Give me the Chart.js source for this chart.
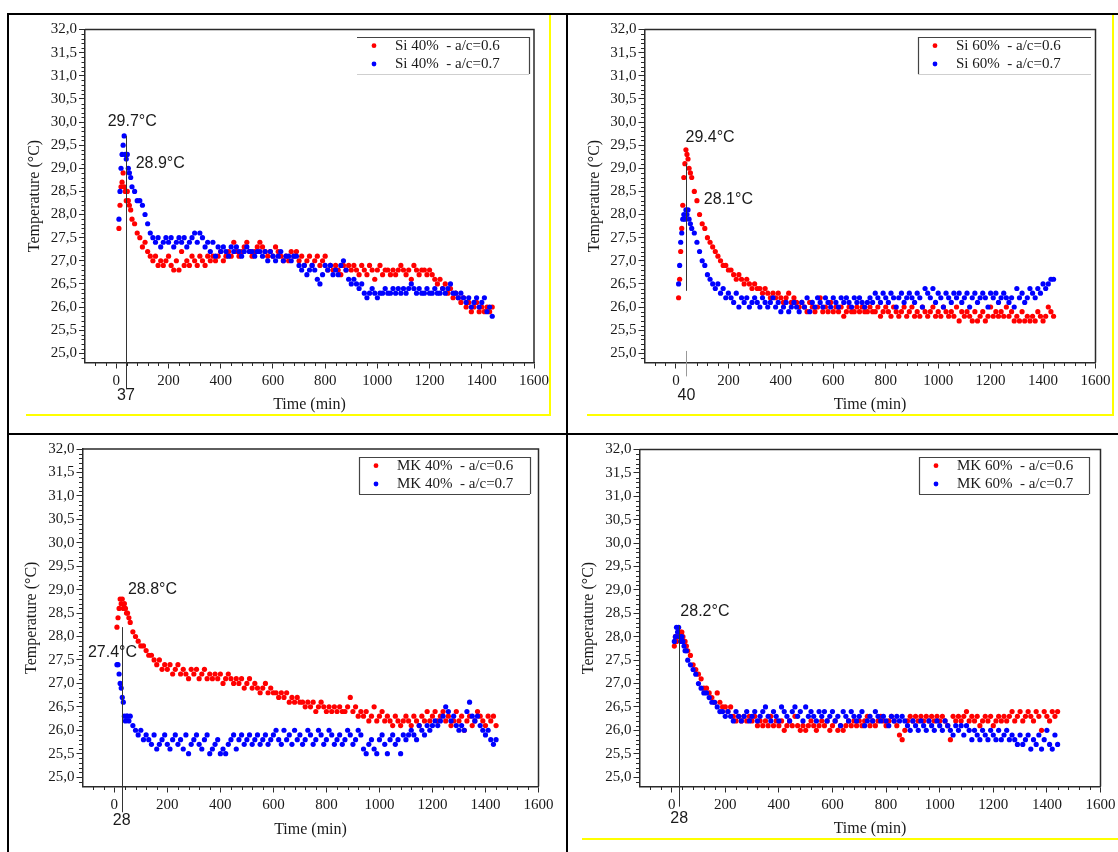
<!DOCTYPE html>
<html>
<head>
<meta charset="utf-8">
<script src="https://cdn.jsdelivr.net/npm/chart.js@4.4.1/dist/chart.umd.min.js"></script>
<style>
  html, body { margin: 0; padding: 0; background: #fff; overflow: hidden; }
  body { width: 1118px; height: 852px; position: relative; }
  canvas { position: absolute; }
  .rule { position: absolute; background: #000; z-index: 5; }
  .mark { position: absolute; background: #ffff00; z-index: 5; }
</style>
</head>
<body>
<script>
const SERIF = '"Liberation Serif", "Times New Roman", serif';
const SANS = '"Liberation Sans", Arial, sans-serif';
const AXIS_COLOR = '#2a2a2a';
const TEXT_COLOR = '#1a1a1a';
const RED = '#ff0000';
const BLUE = '#0000ff';

// sampling times (min), shared by every series
const timeMin = [
  10, 14, 18, 22, 26, 30, 34, 38, 42, 46, 50, 55, 60,
  70, 80, 90, 100, 110, 120, 130, 140, 150, 160,
  170, 180, 190, 200, 210, 220, 230, 240, 250, 260,
  270, 280, 290, 300, 310, 320, 330, 340, 350, 360,
  370, 380, 390, 400, 410, 420, 430, 440, 450, 460,
  470, 480, 490, 500, 510, 520, 530, 540, 550, 560,
  570, 580, 590, 600, 610, 620, 630, 640, 650, 660,
  670, 680, 690, 700, 710, 720, 730, 740, 750, 760,
  770, 780, 790, 800, 810, 820, 830, 840, 850, 860,
  870, 880, 890, 900, 910, 920, 930, 940, 950, 960,
  970, 980, 990, 1000, 1010, 1020, 1030, 1040, 1050, 1060,
  1070, 1080, 1090, 1100, 1110, 1120, 1130, 1140, 1150, 1160,
  1170, 1180, 1190, 1200, 1210, 1220, 1230, 1240, 1250, 1260,
  1270, 1280, 1290, 1300, 1310, 1320, 1330, 1340, 1350, 1360,
  1370, 1380, 1390, 1400, 1410, 1420, 1430, 1440
];

const tempTicks = [25.0, 25.5, 26.0, 26.5, 27.0, 27.5, 28.0, 28.5, 29.0, 29.5, 30.0, 30.5, 31.0, 31.5, 32.0];
const timeTicks = [0, 200, 400, 600, 800, 1000, 1200, 1400, 1600];

// Si 40%
const si40Ac06 = [
  27.7, 28.2, 28.6, 28.7, 28.9, 28.6, 28.5, 28.3, 28.5, 28.3, 28.2, 28.1, 27.9,
  27.8, 27.6, 27.5, 27.3, 27.4, 27.2, 27.1, 27.0, 27.1, 26.9,
  27.0, 26.9, 27.0, 27.1, 26.9, 26.8, 27.0, 26.8, 27.2, 26.9,
  27.0, 26.9, 27.1, 27.0, 26.9, 27.1, 27.0, 26.9, 27.1, 27.0,
  27.1, 27.0, 27.1, 27.2, 27.0, 27.1, 27.2, 27.1, 27.4, 27.2,
  27.1, 27.2, 27.3, 27.4, 27.2, 27.1, 27.2, 27.3, 27.4, 27.3,
  27.2, 27.1, 27.2, 27.1, 27.3, 27.2, 27.1, 27.0, 27.1, 27.0,
  27.2, 27.1, 27.2, 27.0, 27.1, 26.9, 27.0, 27.1, 26.9, 27.0,
  27.1, 26.9, 27.0, 27.1, 26.8, 26.9, 26.8, 26.9, 26.8, 26.7,
  26.9, 26.8, 26.9, 26.8, 26.9, 26.8, 26.7, 26.9, 26.8, 26.7,
  26.9, 26.8, 26.6, 26.8, 26.9, 26.7, 26.8, 26.8, 26.7, 26.8,
  26.7, 26.8, 26.9, 26.8, 26.7, 26.8, 26.6, 26.9, 26.8, 26.7,
  26.8, 26.8, 26.7, 26.8, 26.7, 26.6, 26.5, 26.6, 26.4, 26.5,
  26.3, 26.4, 26.2, 26.3, 26.2, 26.1, 26.2, 26.0, 26.1, 25.9,
  26.0, 26.1, 25.9, 26.0, 25.9, 26.0, 25.9, 26.0
];
const si40Ac07 = [
  27.9, 28.5, 29.0, 29.3, 29.5, 29.7, 29.3, 29.2, 29.3, 29.0, 28.9, 28.8, 28.6,
  28.5, 28.3, 28.3, 28.2, 28.0, 27.8, 27.6, 27.5, 27.4, 27.5,
  27.3, 27.4, 27.5, 27.4, 27.5, 27.3, 27.4, 27.5, 27.4, 27.5,
  27.3, 27.4, 27.5, 27.6, 27.4, 27.6, 27.5, 27.3, 27.4, 27.2,
  27.4, 27.1, 27.3, 27.2, 27.3, 27.2, 27.1, 27.3, 27.2, 27.3,
  27.2, 27.1, 27.2, 27.3, 27.2, 27.2, 27.1, 27.2, 27.2, 27.1,
  27.2, 27.0, 27.2, 27.1, 27.0, 27.1, 27.2, 27.0, 27.1, 27.1,
  27.0, 27.1, 27.1, 26.9, 26.8, 26.9, 26.7, 26.8, 26.9, 26.8,
  26.6, 26.5, 26.7, 26.9, 26.8, 26.9, 26.7, 26.8, 26.7, 26.9,
  27.0, 26.8, 26.6, 26.5, 26.6, 26.5, 26.4, 26.5, 26.3, 26.2,
  26.3, 26.4, 26.3, 26.2, 26.3, 26.3, 26.4, 26.3, 26.3, 26.4,
  26.3, 26.4, 26.3, 26.4, 26.3, 26.4, 26.5, 26.4, 26.3, 26.4,
  26.3, 26.3, 26.4, 26.3, 26.3, 26.4, 26.3, 26.3, 26.4, 26.3,
  26.4, 26.5, 26.3, 26.3, 26.2, 26.3, 26.2, 26.1, 26.2, 26.0,
  26.1, 26.2, 26.0, 26.1, 26.2, 25.9, 26.0, 25.8
];

// Si 60%
const si60Ac06 = [
  26.2, 26.6, 27.2, 27.7, 28.2, 28.8, 29.1, 29.4, 29.3, 29.2, 29.0, 28.9, 28.8,
  28.5, 28.3, 28.0, 27.8, 27.7, 27.5, 27.4, 27.3, 27.2, 27.1,
  27.0, 26.9, 26.9, 26.8, 26.8, 26.7, 26.6, 26.7, 26.6, 26.5,
  26.6, 26.5, 26.4, 26.5, 26.4, 26.4, 26.3, 26.4, 26.3, 26.2,
  26.3, 26.2, 26.3, 26.2, 26.1, 26.2, 26.3, 26.1, 26.2, 26.1,
  26.0, 26.1, 26.0, 25.9, 26.1, 26.0, 25.9, 26.0, 26.2, 25.9,
  26.0, 25.9, 26.1, 25.9, 26.0, 25.9, 26.0, 25.8, 25.9, 26.0,
  25.9, 25.9, 26.0, 25.9, 26.0, 25.9, 25.9, 26.0, 25.9, 25.9,
  26.0, 25.8, 25.9, 26.0, 25.9, 25.8, 26.0, 25.9, 25.8, 25.9,
  26.0, 25.8, 25.9, 26.0, 25.8, 25.9, 25.8, 26.0, 25.9, 25.8,
  25.9, 26.0, 25.8, 25.9, 25.8, 26.0, 25.9, 25.8, 25.9, 25.8,
  26.0, 25.7, 25.9, 25.8, 25.9, 25.8, 25.7, 25.9, 25.7, 25.8,
  25.9, 25.7, 25.8, 26.0, 25.8, 25.9, 25.8, 25.9, 25.8, 26.0,
  25.8, 25.9, 25.7, 25.8, 25.7, 25.9, 25.7, 25.8, 25.7, 25.8,
  25.7, 25.9, 25.8, 25.7, 25.8, 26.0, 25.9, 25.8
];
const si60Ac07 = [
  26.5, 26.9, 27.4, 27.6, 27.9, 28.0, 27.9, 28.1, 28.0, 28.1, 27.9, 27.8, 27.7,
  27.6, 27.4, 27.2, 27.0, 26.9, 26.7, 26.6, 26.5, 26.4, 26.5,
  26.3, 26.4, 26.2, 26.3, 26.2, 26.1, 26.3, 26.0, 26.2, 26.1,
  26.2, 26.0, 26.1, 26.2, 26.1, 26.0, 26.2, 26.1, 26.0, 26.1,
  26.2, 26.0, 26.1, 25.9, 26.0, 26.1, 25.9, 26.0, 26.1, 26.0,
  25.9, 26.1, 26.0, 26.2, 25.9, 26.1, 26.0, 26.2, 26.1, 26.0,
  26.2, 26.1, 26.0, 26.2, 26.1, 26.0, 26.2, 26.1, 26.2, 26.1,
  26.0, 26.2, 26.1, 26.2, 26.1, 26.0, 26.1, 26.2, 26.1, 26.3,
  26.2, 26.1, 26.3, 26.2, 26.1, 26.3, 26.2, 26.0, 26.2, 26.3,
  26.1, 26.2, 26.3, 26.2, 26.1, 26.3, 26.2, 26.0, 26.4, 26.3,
  26.2, 26.4, 26.1, 26.3, 26.2, 26.0, 26.3, 26.2, 26.1, 26.3,
  26.2, 26.3, 26.1, 26.2, 26.3, 26.0, 26.2, 26.3, 26.1, 26.2,
  26.3, 26.2, 26.0, 26.3, 26.2, 26.3, 26.1, 26.2, 26.3, 26.2,
  26.1, 26.2, 26.0, 26.4, 26.2, 26.3, 26.1, 26.2, 26.4, 26.3,
  26.2, 26.4, 26.3, 26.5, 26.4, 26.5, 26.6, 26.6
];

// MK 40%
const mk40Ac06 = [
  28.2, 28.4, 28.6, 28.8, 28.7, 28.8, 28.6, 28.7, 28.6, 28.5, 28.5, 28.4, 28.3,
  28.1, 28.0, 27.9, 27.8, 27.8, 27.7, 27.6, 27.6, 27.5, 27.4,
  27.5, 27.3, 27.4, 27.3, 27.4, 27.2, 27.3, 27.4, 27.2, 27.3,
  27.2, 27.1, 27.3, 27.2, 27.3, 27.1, 27.2, 27.3, 27.1, 27.2,
  27.1, 27.2, 27.1, 27.2, 27.0, 27.1, 27.2, 27.1, 27.0, 27.1,
  27.0, 27.1, 26.9, 27.0, 27.1, 26.9, 27.0, 26.9, 26.8, 26.9,
  27.0, 26.8, 26.9, 26.8, 26.8, 26.7, 26.8, 26.7, 26.8, 26.6,
  26.7, 26.6, 26.7, 26.6, 26.6, 26.5, 26.6, 26.5, 26.6, 26.4,
  26.5, 26.6, 26.5, 26.4, 26.5, 26.4, 26.5, 26.4, 26.5, 26.4,
  26.4, 26.5, 26.7, 26.4, 26.5, 26.3, 26.4, 26.3, 26.4, 26.2,
  26.3, 26.5, 26.2, 26.3, 26.4, 26.2, 26.3, 26.2, 26.1, 26.3,
  26.2, 26.1, 26.2, 26.3, 26.2, 26.1, 26.3, 26.2, 26.1, 26.3,
  26.2, 26.4, 26.2, 26.3, 26.4, 26.2, 26.3, 26.4, 26.2, 26.3,
  26.1, 26.2, 26.4, 26.2, 26.3, 26.0, 26.2, 26.3, 26.1, 26.2,
  26.4, 26.3, 26.2, 26.1, 26.3, 26.2, 26.3, 26.1
];
const mk40Ac07 = [
  27.4, 27.4, 27.2, 27.0, 26.9, 26.7, 26.6, 26.3, 26.2, 26.3, 26.3, 26.2, 26.3,
  26.1, 26.0, 25.9, 26.0, 25.8, 25.9, 25.8, 25.7, 25.9, 25.6,
  25.7, 25.8, 25.9, 25.7, 25.6, 25.8, 25.9, 25.7, 25.8, 25.6,
  25.9, 25.5, 25.7, 25.8, 25.9, 25.7, 25.6, 25.8, 25.9, 25.5,
  25.6, 25.7, 25.8, 25.5, 25.6, 25.5, 25.7, 25.8, 25.9, 25.6,
  25.8, 25.9, 25.7, 25.8, 25.9, 25.7, 25.8, 25.9, 25.7, 25.8,
  25.9, 25.7, 25.8, 25.9, 26.0, 25.8, 25.7, 26.0, 25.8, 25.9,
  25.7, 26.0, 25.8, 25.9, 25.7, 25.8, 26.0, 25.9, 25.7, 25.8,
  26.0, 25.9, 25.7, 25.8, 26.0, 25.9, 25.7, 25.8, 25.9, 25.7,
  25.8, 26.0, 25.9, 25.7, 25.8, 26.0, 25.9, 25.6, 25.5, 25.7,
  25.8, 25.6, 25.5, 25.8, 25.9, 25.7, 25.5, 25.8, 25.9, 25.7,
  25.8, 25.5, 25.9, 25.8, 25.9, 26.0, 25.9, 25.8, 26.1, 26.0,
  25.9, 26.1, 26.0, 26.1, 26.2, 26.1, 26.2, 26.3, 26.5, 26.4,
  26.2, 26.3, 26.1, 26.0, 26.1, 26.0, 26.4, 26.6, 26.3, 26.2,
  26.3, 26.1, 26.0, 25.9, 26.0, 25.8, 25.7, 25.8
];

// MK 60%
const mk60Ac06 = [
  27.8, 28.0, 27.9, 28.0, 28.1, 28.0, 28.1, 28.1, 28.0, 27.9, 27.9, 27.8, 27.7,
  27.6, 27.4, 27.3, 27.2, 27.1, 26.9, 26.9, 26.8, 26.7, 26.6,
  26.8, 26.6, 26.5, 26.5, 26.4, 26.5, 26.3, 26.2, 26.3, 26.2,
  26.3, 26.2, 26.3, 26.2, 26.3, 26.1, 26.2, 26.1, 26.2, 26.1,
  26.3, 26.1, 26.2, 26.1, 26.2, 26.0, 26.1, 26.2, 26.1, 26.3,
  26.1, 26.0, 26.1, 26.0, 26.1, 26.2, 26.1, 26.0, 26.1, 26.2,
  26.1, 26.2, 26.0, 26.1, 26.2, 26.0, 26.1, 26.0, 26.1, 26.2,
  26.1, 26.2, 26.1, 26.2, 26.1, 26.2, 26.3, 26.1, 26.2, 26.1,
  26.2, 26.3, 26.2, 26.1, 26.2, 26.3, 26.2, 26.1, 25.9, 25.8,
  26.0, 26.2, 26.3, 26.2, 26.3, 26.2, 26.3, 26.2, 26.3, 26.2,
  26.3, 26.2, 26.3, 26.2, 26.3, 26.2, 26.1, 25.8, 26.3, 26.2,
  26.3, 26.2, 26.3, 26.4, 26.2, 26.3, 26.2, 26.3, 26.1, 26.2,
  26.3, 26.2, 26.3, 26.1, 26.2, 26.3, 26.2, 26.3, 26.2, 26.3,
  26.4, 26.2, 26.3, 26.4, 26.2, 26.3, 26.4, 26.3, 26.2, 26.4,
  26.3, 26.0, 26.4, 26.3, 26.2, 26.4, 26.3, 26.4
];
const mk60Ac07 = [
  27.9, 28.0, 28.2, 28.1, 28.2, 28.0, 27.9, 28.0, 27.9, 27.8, 27.7, 27.7, 27.5,
  27.4, 27.3, 27.2, 27.0, 26.9, 26.8, 26.8, 26.7, 26.6, 26.6,
  26.5, 26.4, 26.4, 26.3, 26.4, 26.3, 26.2, 26.4, 26.3, 26.2,
  26.3, 26.4, 26.2, 26.3, 26.4, 26.2, 26.3, 26.4, 26.5, 26.3,
  26.2, 26.4, 26.3, 26.2, 26.5, 26.4, 26.3, 26.2, 26.4, 26.5,
  26.3, 26.4, 26.2, 26.5, 26.3, 26.4, 26.3, 26.2, 26.4, 26.3,
  26.4, 26.2, 26.3, 26.4, 26.2, 26.3, 26.1, 26.4, 26.3, 26.2,
  26.4, 26.3, 26.2, 26.3, 26.4, 26.1, 26.2, 26.3, 26.2, 26.4,
  26.3, 26.2, 26.3, 26.2, 26.1, 26.3, 26.2, 26.3, 26.2, 26.3,
  26.2, 26.1, 26.0, 26.2, 26.1, 26.0, 26.2, 26.1, 26.0, 26.2,
  26.1, 26.0, 26.2, 26.1, 26.0, 26.2, 26.1, 26.0, 25.9, 26.1,
  26.0, 26.1, 25.9, 26.1, 26.0, 25.8, 26.0, 25.9, 25.8, 26.0,
  25.9, 25.8, 26.0, 25.9, 25.8, 26.0, 25.8, 25.9, 26.0, 25.8,
  25.9, 25.8, 25.7, 25.9, 25.7, 25.8, 25.9, 25.6, 25.8, 25.7,
  25.9, 25.6, 25.8, 26.0, 25.7, 25.6, 25.9, 25.7
];

const si40Labels = ['Si 40%  - a/c=0.6', 'Si 40%  - a/c=0.7'];
const si60Labels = ['Si 60%  - a/c=0.6', 'Si 60%  - a/c=0.7'];
const mk40Labels = ['MK 40%  - a/c=0.6', 'MK 40%  - a/c=0.7'];
const mk60Labels = ['MK 60%  - a/c=0.6', 'MK 60%  - a/c=0.7'];

// layout of the four panels, in page pixels
const panels = [
  {
    canvas: { x: 9, y: 15, w: 557, h: 418 },
    plot: { l: 85, t: 29.5, r: 534, b: 362.5 },
    yTitlePad: 16.4, xTitlePad: 18.4,
    series: [si40Ac06, si40Ac07], labels: si40Labels,
    legend: { x: 357, y: 37, w: 172, h: 37, dark: ['top', 'right'], light: ['bottom'] },
    peakTime: 37, peakLine: [[29.7, 24.22, '#333']], timeLabelDy: 33,
    notes: [{ text: '29.7°C', x: 61, y: 30.0 }, { text: '28.9°C', x: 168, y: 29.1 }]
  },
  {
    canvas: { x: 568, y: 15, w: 560, h: 418 },
    plot: { l: 644.5, t: 29.5, r: 1095.5, b: 362.5 },
    yTitlePad: 17, xTitlePad: 18.4,
    series: [si60Ac06, si60Ac07], labels: si60Labels,
    legend: { x: 918, y: 37, w: 173, h: 37, dark: ['top', 'left'], light: ['bottom'] },
    peakTime: 40, peakLine: [[29.1, 26.35, '#333'], [25.05, 24.5, '#999']], timeLabelDy: 33,
    notes: [{ text: '29.4°C', x: 130, y: 29.66 }, { text: '28.1°C', x: 200, y: 28.32 }]
  },
  {
    canvas: { x: 9, y: 435, w: 562, h: 417 },
    plot: { l: 82.5, t: 449, r: 538.5, b: 786.5 },
    yTitlePad: 13.4, xTitlePad: 12.4,
    series: [mk40Ac06, mk40Ac07], labels: mk40Labels,
    legend: { x: 359, y: 457, w: 171, h: 37, dark: ['top', 'right', 'bottom', 'left'], light: [] },
    peakTime: 28, peakLine: [[28.2, 24.25, '#333']], timeLabelDy: 34,
    notes: [{ text: '28.8°C', x: 144, y: 29.01 }, { text: '27.4°C', x: -7, y: 27.65 }]
  },
  {
    canvas: { x: 568, y: 435, w: 565, h: 417 },
    plot: { l: 639.5, t: 449.5, r: 1100.5, b: 786.5 },
    yTitlePad: 11.4, xTitlePad: 13.4,
    series: [mk60Ac06, mk60Ac07], labels: mk60Labels,
    legend: { x: 919, y: 457, w: 170, h: 37, dark: ['top', 'right', 'bottom', 'left'], light: [] },
    peakTime: 28, peakLine: [[28.24, 24.37, '#333']], timeLabelDy: 32.5,
    notes: [{ text: '28.2°C', x: 124, y: 28.53 }]
  }
];

function toPoints(values) {
  return timeMin.map((t, i) => ({ x: t, y: values[i] }));
}

function makeDecor(p) {
  return {
    id: 'decor',
    afterDraw(chart) {
      const { ctx, chartArea: a } = chart;
      const x = chart.scales.x;
      const y = chart.scales.y;
      ctx.save();

      // top and right frame
      ctx.strokeStyle = AXIS_COLOR;
      ctx.lineWidth = 1.5;
      ctx.beginPath();
      ctx.moveTo(a.left, a.top);
      ctx.lineTo(a.right, a.top);
      ctx.lineTo(a.right, a.bottom);
      ctx.stroke();

      // minor ticks
      ctx.lineWidth = 1;
      ctx.beginPath();
      for (let k = 249; k <= 319; k++) {
        if (k % 5 === 0) continue;
        const py = Math.round(y.getPixelForValue(k / 10)) + 0.5;
        ctx.moveTo(a.left - 3.5, py);
        ctx.lineTo(a.left, py);
      }
      for (let v = -80; v < 1600; v += 40) {
        if (v % 200 === 0) continue;
        const px = Math.round(x.getPixelForValue(v)) + 0.5;
        ctx.moveTo(px, a.bottom);
        ctx.lineTo(px, a.bottom + 3.5);
      }
      ctx.stroke();

      // peak marker line
      const lx = Math.round(x.getPixelForValue(p.peakTime)) + 0.5;
      p.peakLine.forEach(([from, to, color]) => {
        ctx.strokeStyle = color;
        ctx.beginPath();
        ctx.moveTo(lx, y.getPixelForValue(from));
        ctx.lineTo(lx, y.getPixelForValue(to));
        ctx.stroke();
      });

      // value notes
      ctx.fillStyle = TEXT_COLOR;
      ctx.font = '16px ' + SANS;
      ctx.textAlign = 'center';
      ctx.textBaseline = 'middle';
      p.notes.forEach(n => {
        ctx.fillText(n.text, x.getPixelForValue(n.x), y.getPixelForValue(n.y));
      });
      ctx.fillText(String(p.peakTime), x.getPixelForValue(p.peakTime), a.bottom + p.timeLabelDy);

      // legend box
      const bx = p.legend.x - p.canvas.x;
      const by = p.legend.y - p.canvas.y;
      const bw = p.legend.w;
      const bh = p.legend.h;
      const side = (name) => {
        ctx.beginPath();
        if (name === 'top') { ctx.moveTo(bx, by + 0.5); ctx.lineTo(bx + bw, by + 0.5); }
        if (name === 'bottom') { ctx.moveTo(bx, by + bh + 0.5); ctx.lineTo(bx + bw, by + bh + 0.5); }
        if (name === 'left') { ctx.moveTo(bx + 0.5, by); ctx.lineTo(bx + 0.5, by + bh); }
        if (name === 'right') { ctx.moveTo(bx + bw + 0.5, by); ctx.lineTo(bx + bw + 0.5, by + bh); }
        ctx.stroke();
      };
      ctx.lineWidth = 1.2;
      ctx.strokeStyle = '#444';
      p.legend.dark.forEach(side);
      ctx.strokeStyle = '#cfcfcf';
      p.legend.light.forEach(side);

      const colors = [RED, BLUE];
      ctx.textAlign = 'left';
      ctx.font = '15px ' + SERIF;
      p.labels.forEach((label, i) => {
        const ry = by + 8.7 + i * 18.3;
        ctx.fillStyle = colors[i];
        ctx.beginPath();
        ctx.arc(bx + 17, ry, 2.4, 0, Math.PI * 2);
        ctx.fill();
        ctx.fillStyle = TEXT_COLOR;
        ctx.fillText(label, bx + 38, ry + 0.5);
      });
      ctx.restore();
    }
  };
}

function createPanel(p) {
  const canvas = document.createElement('canvas');
  canvas.width = p.canvas.w;
  canvas.height = p.canvas.h;
  canvas.style.left = p.canvas.x + 'px';
  canvas.style.top = p.canvas.y + 'px';
  document.body.appendChild(canvas);

  const tickFont = { family: SERIF, size: 15 };
  const titleFont = { family: SERIF, size: 16 };

  new Chart(canvas, {
    type: 'scatter',
    data: {
      datasets: [
        { label: p.labels[0], data: toPoints(p.series[0]), backgroundColor: RED, order: 1 },
        { label: p.labels[1], data: toPoints(p.series[1]), backgroundColor: BLUE, order: 0 }
      ]
    },
    options: {
      responsive: false,
      animation: false,
      devicePixelRatio: 1,
      events: [],
      layout: {
        padding: {
          left: 0,
          top: p.plot.t - p.canvas.y,
          right: p.canvas.x + p.canvas.w - p.plot.r,
          bottom: 0
        }
      },
      elements: {
        point: { radius: 2.6, borderWidth: 0, hoverRadius: 2.6, pointStyle: 'circle' }
      },
      scales: {
        x: {
          type: 'linear',
          min: -120,
          max: 1600,
          afterBuildTicks: s => { s.ticks = timeTicks.map(v => ({ value: v })); },
          afterFit: s => { s.height = p.canvas.y + p.canvas.h - p.plot.b; },
          ticks: { autoSkip: false, maxRotation: 0, padding: 4, color: TEXT_COLOR, font: tickFont, callback: v => String(v) },
          grid: { drawOnChartArea: false, drawTicks: true, tickLength: 6, color: AXIS_COLOR },
          border: { display: true, color: AXIS_COLOR, width: 1.5 },
          title: { display: true, text: 'Time (min)', color: TEXT_COLOR, font: titleFont, padding: { top: 0, bottom: p.xTitlePad } }
        },
        y: {
          type: 'linear',
          min: 24.8,
          max: 32,
          afterBuildTicks: s => { s.ticks = tempTicks.map(v => ({ value: v })); },
          afterFit: s => { s.width = p.plot.l - p.canvas.x; },
          ticks: { autoSkip: false, padding: 2, color: TEXT_COLOR, font: tickFont, callback: v => Number(v).toFixed(1).replace('.', ',') },
          grid: { drawOnChartArea: false, drawTicks: true, tickLength: 6, color: AXIS_COLOR },
          border: { display: true, color: AXIS_COLOR, width: 1.5 },
          title: { display: true, text: 'Temperature (°C)', color: TEXT_COLOR, font: titleFont, padding: { top: p.yTitlePad, bottom: 0 } }
        }
      },
      plugins: {
        legend: { display: false },
        tooltip: { enabled: false }
      }
    },
    plugins: [makeDecor(p)]
  });
}

panels.forEach(createPanel);

// figure frame and highlight strokes
const rules = [
  { cls: 'rule', l: 7, t: 13, w: 1111, h: 2 },
  { cls: 'rule', l: 7, t: 13, w: 2, h: 839 },
  { cls: 'rule', l: 566, t: 13, w: 2, h: 839 },
  { cls: 'rule', l: 7, t: 433, w: 1111, h: 2 },
  { cls: 'mark', l: 549, t: 15, w: 2, h: 400 },
  { cls: 'mark', l: 26, t: 414, w: 525, h: 2 },
  { cls: 'mark', l: 1112, t: 15, w: 2, h: 401 },
  { cls: 'mark', l: 587, t: 414, w: 527, h: 2 },
  { cls: 'mark', l: 582, t: 838, w: 536, h: 2 }
];
rules.forEach(r => {
  const d = document.createElement('div');
  d.className = r.cls;
  d.style.left = r.l + 'px';
  d.style.top = r.t + 'px';
  d.style.width = r.w + 'px';
  d.style.height = r.h + 'px';
  document.body.appendChild(d);
});
</script>
</body>
</html>
